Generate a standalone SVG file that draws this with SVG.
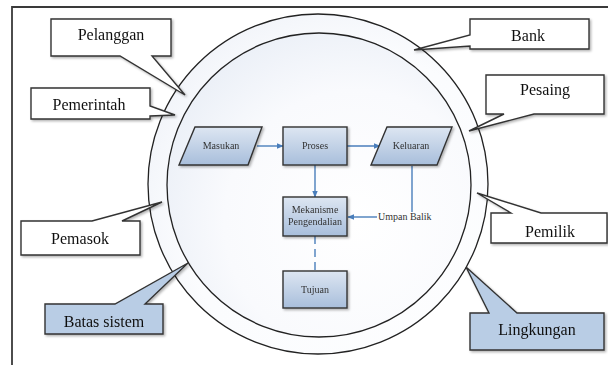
<svg xmlns="http://www.w3.org/2000/svg" width="608" height="365" viewBox="0 0 608 365">
<defs>
<style>
.frame{fill:none;stroke:#3a3a3a;stroke-width:1.8}
.ring{stroke:#222;stroke-width:1.3}
.call{fill:#fff;stroke:#333;stroke-width:1.4;stroke-linejoin:miter}
.callb{fill:#b9cde5;stroke:#333;stroke-width:1.4}
.ct{font-family:"Liberation Serif",serif;font-size:16px;fill:#111;text-anchor:middle}
.node{fill:url(#ng);stroke:#333;stroke-width:1.4}
.nt{font-family:"Liberation Serif",serif;font-size:10px;fill:#333;text-anchor:middle}
.lt{font-family:"Liberation Serif",serif;font-size:10px;fill:#333}
.conn{fill:none;stroke:#4a7ebb;stroke-width:1.4}
</style>
<linearGradient id="ng" x1="0" y1="0" x2="0" y2="1">
<stop offset="0" stop-color="#dde6f2"/>
<stop offset="1" stop-color="#a8bedb"/>
</linearGradient>
<radialGradient id="cg" cx="0.62" cy="0.62" r="0.72">
<stop offset="0" stop-color="#ffffff"/>
<stop offset="0.6" stop-color="#f9fafd"/>
<stop offset="1" stop-color="#e9eef6"/>
</radialGradient>
<radialGradient id="og" cx="0.6" cy="0.6" r="0.7">
<stop offset="0" stop-color="#ffffff"/>
<stop offset="0.7" stop-color="#fbfcfe"/>
<stop offset="1" stop-color="#eff2f8"/>
</radialGradient>
<filter id="sh" x="-20%" y="-20%" width="140%" height="140%">
<feDropShadow dx="1.5" dy="1.5" stdDeviation="0.8" flood-color="#000" flood-opacity="0.3"/>
</filter>
<marker id="ah" viewBox="0 0 10 10" refX="9" refY="5" markerWidth="7" markerHeight="7" orient="auto" markerUnits="userSpaceOnUse">
<path d="M0,1 L10,5 L0,9 Z" fill="#4a7ebb"/>
</marker>
</defs>
<rect width="608" height="365" fill="#fff"/>
<path class="frame" d="M12,365 V7 H608"/>
<g id="lingkungan-ring">
<circle class="ring" cx="318" cy="184" r="170" fill="url(#og)"/>
<circle class="ring" cx="319" cy="185" r="152" fill="url(#cg)"/>
</g>
<g id="connectors">
<line class="conn" x1="257" y1="146" x2="283" y2="146" marker-end="url(#ah)"/>
<line class="conn" x1="347" y1="146" x2="380" y2="146" marker-end="url(#ah)"/>
<line class="conn" x1="315" y1="165" x2="315" y2="197" marker-end="url(#ah)"/>
<polyline class="conn" points="412,166 412,212"/>
<line class="conn" x1="377" y1="217" x2="348" y2="217" marker-end="url(#ah)"/>
<line class="conn" x1="315" y1="236" x2="315" y2="271" stroke-dasharray="8,5"/>
</g>
<g id="masukan" filter="url(#sh)">
<polygon class="node" points="195,127 262,127 248,165 179,165"/>
<text class="nt" x="221" y="149">Masukan</text>
</g>
<g id="proses" filter="url(#sh)">
<rect class="node" x="283" y="127" width="64" height="38"/>
<text class="nt" x="315" y="149">Proses</text>
</g>
<g id="keluaran" filter="url(#sh)">
<polygon class="node" points="387,127 452,127 437,165 371,165"/>
<text class="nt" x="411" y="149">Keluaran</text>
</g>
<g id="mekanisme" filter="url(#sh)">
<rect class="node" x="283" y="197" width="64" height="39"/>
<text class="nt" x="315" y="213">Mekanisme</text>
<text class="nt" x="315" y="225">Pengendalian</text>
</g>
<g id="umpan-balik">
<text class="lt" x="378" y="220">Umpan Balik</text>
</g>
<g id="tujuan" filter="url(#sh)">
<rect class="node" x="283" y="271" width="64" height="37"/>
<text class="nt" x="315" y="293">Tujuan</text>
</g>
<g id="pelanggan" filter="url(#sh)">
<path class="call" d="M51,19 H171 V56 H152 L185,95 L120,56 H51 Z"/>
<text class="ct" x="111" y="40">Pelanggan</text>
</g>
<g id="pemerintah" filter="url(#sh)">
<path class="call" d="M31,88 H150 V106 L175,115 L150,116 V119 H31 Z"/>
<text class="ct" x="89" y="110">Pemerintah</text>
</g>
<g id="bank" filter="url(#sh)">
<path class="call" d="M470,19 H589 V49 H470 V46 L414,50 L470,35 Z"/>
<text class="ct" x="528" y="41">Bank</text>
</g>
<g id="pesaing" filter="url(#sh)">
<path class="call" d="M486,75 H604 V114 H534 L469,131 L504,114 H486 Z"/>
<text class="ct" x="545" y="95">Pesaing</text>
</g>
<g id="pemasok" filter="url(#sh)">
<path class="call" d="M21,221 H92 L162,202 L122,221 H140 V255 H21 Z"/>
<text class="ct" x="80" y="244">Pemasok</text>
</g>
<g id="pemilik" filter="url(#sh)">
<path class="call" d="M491,213 H511 L477,193 L541,213 H607 V243 H491 Z"/>
<text class="ct" x="550" y="237">Pemilik</text>
</g>
<g id="batas-sistem" filter="url(#sh)">
<path class="callb" d="M45,304 H115 L188,263 L145,304 H163 V334 H45 Z"/>
<text class="ct" x="104" y="327">Batas sistem</text>
</g>
<g id="lingkungan" filter="url(#sh)">
<path class="callb" d="M470,313 H489 L466,267 L517,313 H604 V350 H470 Z"/>
<text class="ct" x="537" y="335">Lingkungan</text>
</g>
</svg>
